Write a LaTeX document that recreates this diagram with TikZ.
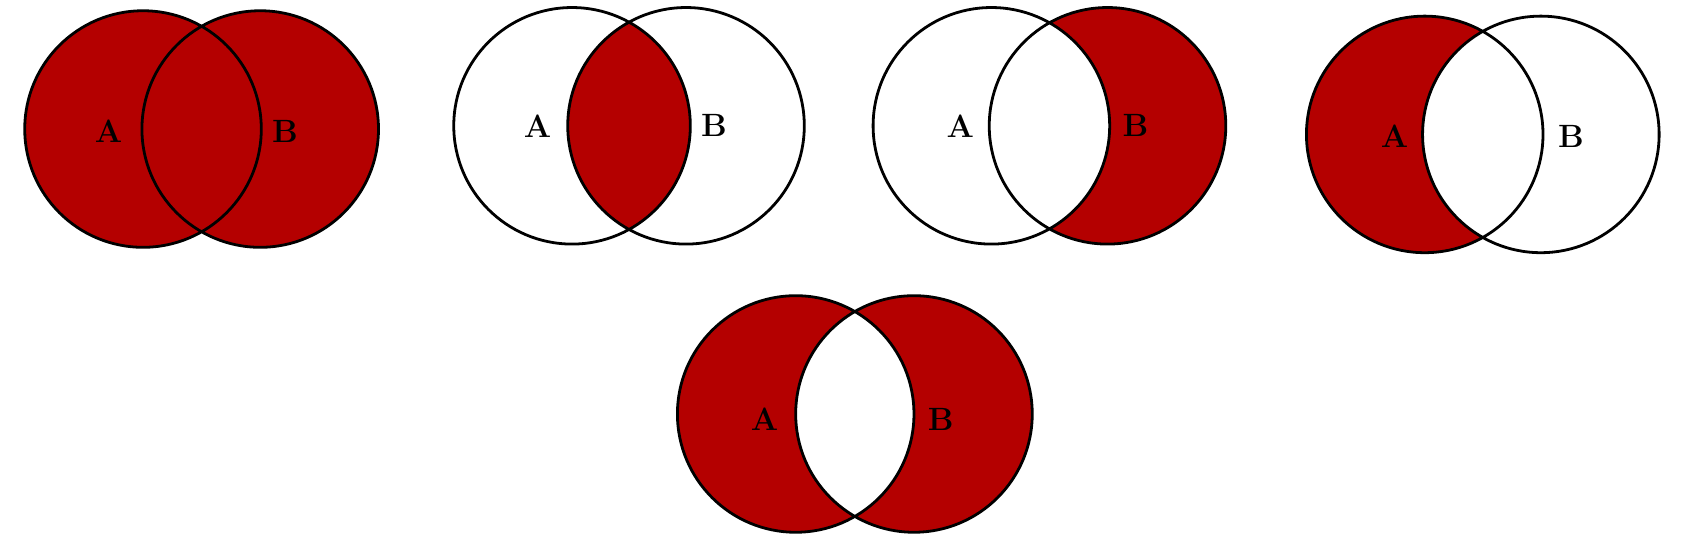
\documentclass[tikz,border=0pt]{standalone}
\definecolor{vred}{RGB}{180,0,0}
\tikzset{ring/.style={draw=black,line width=2.6pt},lab/.style={font=\bfseries\fontsize{30}{30}\selectfont}}
\begin{document}
\begin{tikzpicture}[x=1pt,y=-1pt]
\useasboundingbox (0,0) rectangle (1568,517);
\def\R{110}
% 1: union
\fill[vred] (133,120) circle (\R) (242,120) circle (\R);
\draw[ring] (133,120) circle (\R) (242,120) circle (\R);
\node[lab] (a1) at (101,122) {A}; \node[lab] (b1) at (265,122) {B};
% 2: intersection
\begin{scope}\clip (532,117) circle (\R); \fill[vred] (638,117) circle (\R);\end{scope}
\draw[ring] (532,117) circle (\R) (638,117) circle (\R);
\node[lab] (a2) at (500,117) {A}; \node[lab] (b2) at (664,117) {B};
% 3: B minus A
\fill[vred,even odd rule] (1030,117) circle (\R) (922,117) circle (\R);
\begin{scope}\clip (1030,117) circle (\R); \fill[white] (922,117) circle (\R);\end{scope}
\fill[white] (922,117) circle (\R);
\fill[vred] (1030,117) circle (\R);
\fill[white] (922,117) circle (\R);
\draw[ring] (922,117) circle (\R) (1030,117) circle (\R);
\node[lab] (a3) at (893,117) {A}; \node[lab] (b3) at (1056,117) {B};
% 4: A minus B
\fill[vred] (1325,125) circle (\R);
\fill[white] (1433,125) circle (\R);
\draw[ring] (1325,125) circle (\R) (1433,125) circle (\R);
\node[lab] (a4) at (1297,127) {A}; \node[lab] (b4) at (1461,127) {B};
% 5: symmetric difference
\fill[vred,even odd rule] (740,385) circle (\R) (850,385) circle (\R);
\draw[ring] (740,385) circle (\R) (850,385) circle (\R);
\node[lab] (a5) at (711,390) {A}; \node[lab] (b5) at (875,390) {B};
\end{tikzpicture}
\end{document}
